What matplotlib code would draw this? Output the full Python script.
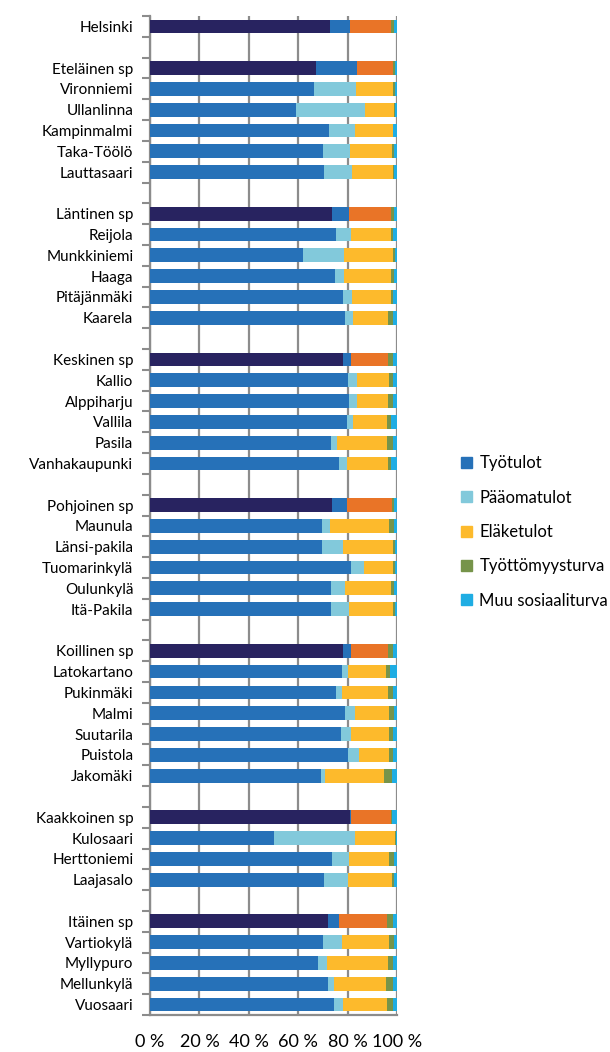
import numpy as np
import matplotlib.pyplot as plt

plt.rcParams['font.family'] = ['Lato', 'DejaVu Sans']

labels = ["Helsinki",
          "Eteläinen sp", "Vironniemi", "Ullanlinna", "Kampinmalmi", "Taka-Töölö", "Lauttasaari",
          "Läntinen sp", "Reijola", "Munkkiniemi", "Haaga", "Pitäjänmäki", "Kaarela",
          "Keskinen sp", "Kallio", "Alppiharju", "Vallila", "Pasila", "Vanhakaupunki",
          "Pohjoinen sp", "Maunula", "Länsi-pakila", "Tuomarinkylä", "Oulunkylä", "Itä-Pakila",
          "Koillinen sp", "Latokartano", "Pukinmäki", "Malmi", "Suutarila", "Puistola", "Jakomäki",
          "Kaakkoinen sp", "Kulosaari", "Herttoniemi", "Laajasalo",
          "Itäinen sp", "Vartiokylä", "Myllypuro", "Mellunkylä", "Vuosaari"]

tyotulot = [72.9,
            67.2, 66.5, 59.1, 72.6, 69.9, 70.4,
            73.7, 75.3, 61.9, 74.9, 78.1, 79.1,
            78.1, 80.2, 80.6, 79.8, 73.1, 76.5,
            73.7, 69.5, 69.5, 81.5, 73.1, 73.1,
            78.1, 77.7, 75.3, 79.1, 77.3, 80.2, 69.4,
            81.0, 50.3, 73.7, 70.4,
            72.1, 69.9, 68.2, 72.2, 74.5]
paaomatulot = [8.1,
               16.6, 16.9, 28.1, 10.4, 11.2, 11.5,
               6.9, 6.1, 16.8, 3.8, 3.8, 3.2,
               3.3, 3.7, 3.3, 2.3, 2.7, 3.3,
               6.1, 3.2, 8.8, 5.1, 5.7, 7.6,
               3.3, 2.5, 2.6, 3.9, 4.2, 4.6, 1.5,
               0.2, 32.7, 7.0, 9.8,
               4.4, 7.8, 3.6, 2.4, 3.8]
elaketulot = [16.4,
              14.6, 15.0, 11.6, 15.4, 16.9, 16.6,
              16.8, 16.0, 19.7, 18.7, 15.5, 14.2,
              15.1, 13.0, 12.6, 13.9, 20.2, 16.7,
              18.0, 24.2, 20.1, 11.8, 18.6, 17.7,
              15.1, 15.3, 18.6, 13.9, 15.4, 12.1, 23.7,
              16.2, 16.2, 16.2, 17.6,
              19.6, 19.2, 24.7, 20.9, 17.8]
tyottomyysturva = [1.4,
                   0.8, 0.8, 0.4, 0.1, 0.8, 0.1,
                   1.3, 0.8, 0.9, 1.3, 0.8, 1.7,
                   1.7, 1.3, 1.7, 1.7, 2.2, 1.2,
                   0.9, 1.9, 0.8, 0.8, 1.3, 0.8,
                   1.7, 1.8, 1.7, 1.9, 1.3, 1.3, 3.2,
                   0.6, 0.3, 1.9, 0.9,
                   2.1, 1.8, 1.7, 2.7, 2.1]
muu_sosiaaliturva = [1.2,
                     0.8, 0.8, 0.8, 1.5, 1.2, 1.4,
                     1.3, 1.8, 0.7, 1.3, 1.8, 1.8,
                     1.8, 1.8, 1.8, 2.3, 1.8, 2.3,
                     1.3, 1.2, 0.8, 0.8, 1.3, 0.8,
                     1.8, 2.7, 1.8, 1.2, 1.8, 1.8, 2.2,
                     2.0, 0.5, 1.2, 1.3,
                     1.8, 1.3, 1.8, 1.8, 1.8]

series_names = ["Työtulot", "Pääomatulot", "Eläketulot", "Työttömyysturva", "Muu sosiaaliturva"]
colors = ["#2671b8", "#82c9db", "#fdba2c", "#76944a", "#1fade3"]
header_colors = ["#282360", "#2671b8", "#e97427", "#76944a", "#1fade3"]

header = [lab == "Helsinki" or lab.endswith(" sp") for lab in labels]

# row positions, one empty row before every area total
ypos = []
y = 0
for i in range(len(labels)):
    if i > 0 and header[i]:
        y += 1
    ypos.append(y)
    y += 1
nrows = y
ypos = np.array(ypos)

data = np.array([tyotulot, paaomatulot, elaketulot, tyottomyysturva, muu_sosiaaliturva])
data = data / data.sum(axis=0) * 100

fig = plt.figure(figsize=(6.1, 10.52), dpi=100)
ax = fig.add_axes([150 / 610, 37 / 1052, 247 / 610, 999 / 1052])

row_colors = [[header_colors[k] if h else colors[k] for h in header] for k in range(5)]
left = np.zeros(len(labels))
for k in range(5):
    ax.barh(ypos, data[k], left=left, height=0.66, color=row_colors[k], zorder=3)
    left += data[k]

ax.set_xlim(0, 100)
ax.set_ylim(nrows - 0.5, -0.5)
ax.set_xticks(np.arange(0, 101, 20))
ax.set_xticklabels([f"{v} %" for v in range(0, 101, 20)], fontsize=13)
ax.set_yticks(ypos)
ax.set_yticklabels(labels, fontsize=11)
ax.set_yticks(np.arange(-0.5, nrows), minor=True)
ax.tick_params(axis='y', which='major', length=0, pad=12)
ax.tick_params(axis='y', which='minor', length=6, width=1.5, color="#8c8c8c", direction='out')
ax.tick_params(axis='x', length=0, pad=14)
ax.grid(axis='x', color="#8c8c8c", linewidth=1.6, zorder=0)
for s in ["top", "right"]:
    ax.spines[s].set_visible(False)
for s in ["left", "bottom"]:
    ax.spines[s].set_color("#8c8c8c")
    ax.spines[s].set_linewidth(1.6)

handles = [plt.Rectangle((0, 0), 1, 1, color=c) for c in colors]
fig.legend(handles, series_names, loc='center left', bbox_to_anchor=(446 / 610, 1 - 532 / 1052),
           frameon=False, fontsize=12, handlelength=0.65, handleheight=0.65,
           handletextpad=0.45, labelspacing=1.1)

fig.savefig("out.png", dpi=100)
